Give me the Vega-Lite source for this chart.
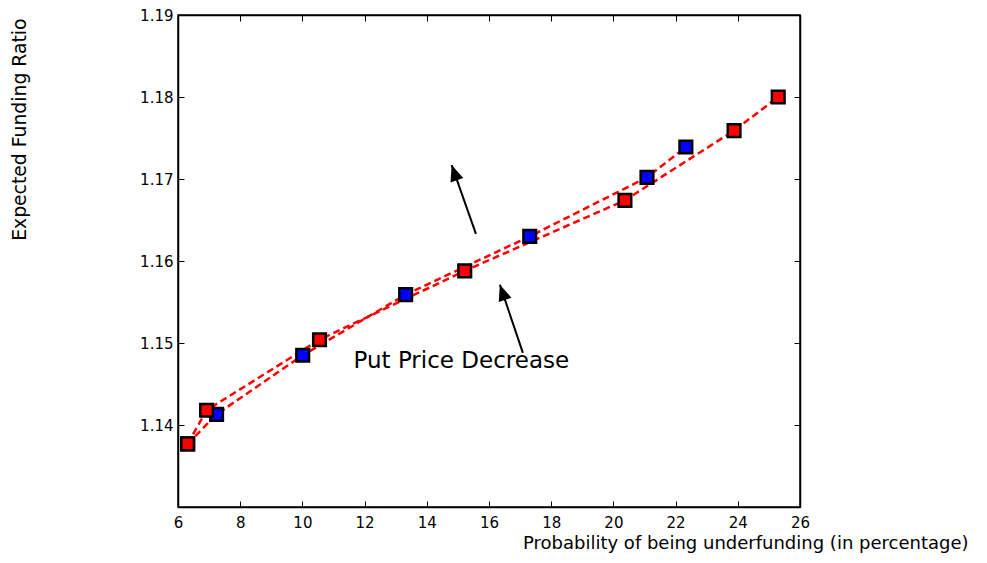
{
  "$schema": "https://vega.github.io/schema/vega-lite/v6.json",
  "autosize": {"type": "none"},
  "padding": {"left": 178, "top": 15, "right": 187, "bottom": 56},
  "width": 622,
  "height": 492,
  "background": "white",
  "config": {
    "view": {"stroke": "black", "strokeWidth": 1.5},
    "axis": {
      "grid": false,
      "domainColor": "black",
      "domainWidth": 1.5,
      "tickColor": "black",
      "tickWidth": 1,
      "tickSize": -6,
      "labelFont": "DejaVu Sans",
      "labelFontSize": 15,
      "labelColor": "black",
      "labelOverlap": false,
      "labelFlush": false,
      "titleFont": "DejaVu Sans",
      "titleFontSize": 18,
      "titleFontWeight": "normal",
      "titleColor": "black"
    }
  },
  "datasets": {
    "frontier": [
      {"series": "S2", "prob": 6.31, "ratio": 1.1377},
      {"series": "S2", "prob": 7.24, "ratio": 1.1413},
      {"series": "S2", "prob": 10.01, "ratio": 1.1485},
      {"series": "S2", "prob": 13.32, "ratio": 1.1559},
      {"series": "S2", "prob": 17.31, "ratio": 1.1630},
      {"series": "S2", "prob": 21.08, "ratio": 1.1702},
      {"series": "S2", "prob": 22.33, "ratio": 1.1739},
      {"series": "S1", "prob": 6.31, "ratio": 1.1377},
      {"series": "S1", "prob": 6.92, "ratio": 1.1418},
      {"series": "S1", "prob": 10.55, "ratio": 1.1504},
      {"series": "S1", "prob": 15.22, "ratio": 1.1588},
      {"series": "S1", "prob": 20.37, "ratio": 1.1674},
      {"series": "S1", "prob": 23.88, "ratio": 1.1759},
      {"series": "S1", "prob": 25.30, "ratio": 1.1800}
    ],
    "arrows": [
      {"fromProb": 15.58, "fromRatio": 1.1633, "toProb": 14.80, "toRatio": 1.1717},
      {"fromProb": 17.09, "fromRatio": 1.1488, "toProb": 16.35, "toRatio": 1.1571}
    ],
    "notes": [
      {"prob": 15.11, "ratio": 1.14695, "label": "Put Price Decrease"}
    ]
  },
  "resolve": {"axis": {"x": "independent", "y": "independent"}},
  "layer": [
    {
      "data": {"name": "frontier"},
      "mark": {"type": "line", "color": "#ff0000", "strokeWidth": 2.5, "strokeDash": [7, 4]},
      "encoding": {
        "x": {
          "field": "prob", "type": "quantitative",
          "scale": {"domain": [6, 26], "nice": false, "zero": false},
          "axis": {
            "orient": "bottom",
            "values": [6, 8, 10, 12, 14, 16, 18, 20, 22, 24, 26],
            "format": "d",
            "labelPadding": 14,
            "title": "Probability of being underfunding (in percentage)",
            "titleX": 790,
            "titleY": 41,
            "titleAlign": "right",
            "titleBaseline": "alphabetic"
          }
        },
        "y": {
          "field": "ratio", "type": "quantitative",
          "scale": {"domain": [1.13, 1.19], "nice": false, "zero": false},
          "axis": {
            "orient": "left",
            "values": [1.13, 1.14, 1.15, 1.16, 1.17, 1.18, 1.19],
            "labelExpr": "datum.value < 1.135 ? '' : format(datum.value, '.2f')",
            "labelPadding": 11,
            "title": "Expected Funding Ratio",
            "titleFontSize": 18.8,
            "titleAngle": -90,
            "titleX": -153,
            "titleY": 3,
            "titleAlign": "right",
            "titleBaseline": "alphabetic"
          }
        },
        "detail": {"field": "series"},
        "order": {"field": "prob"}
      }
    },
    {
      "data": {"name": "frontier"},
      "mark": {"type": "point", "shape": "square", "filled": true, "size": 160, "stroke": "black", "strokeWidth": 2.5, "opacity": 1},
      "encoding": {
        "x": {
          "field": "prob", "type": "quantitative",
          "axis": {"orient": "top", "values": [6, 8, 10, 12, 14, 16, 18, 20, 22, 24, 26], "labels": false, "title": null}
        },
        "y": {
          "field": "ratio", "type": "quantitative",
          "axis": {"orient": "right", "values": [1.13, 1.14, 1.15, 1.16, 1.17, 1.18, 1.19], "labels": false, "title": null}
        },
        "color": {
          "field": "series", "type": "nominal",
          "scale": {"domain": ["S1", "S2"], "range": ["#ff0000", "#0000ff"]},
          "legend": null
        }
      }
    },
    {
      "data": {"name": "arrows"},
      "mark": {"type": "rule", "color": "black", "strokeWidth": 2},
      "encoding": {
        "x": {"field": "fromProb", "type": "quantitative", "axis": null},
        "y": {"field": "fromRatio", "type": "quantitative", "axis": null},
        "x2": {"field": "toProb"},
        "y2": {"field": "toRatio"}
      }
    },
    {
      "data": {"name": "arrows"},
      "mark": {"type": "point", "shape": "M0,0L-0.42,1L0.42,1Z", "filled": true, "color": "black", "opacity": 1, "size": 1024, "angle": -19, "strokeWidth": 0},
      "encoding": {
        "x": {"field": "toProb", "type": "quantitative", "axis": null},
        "y": {"field": "toRatio", "type": "quantitative", "axis": null}
      }
    },
    {
      "data": {"name": "notes"},
      "mark": {"type": "text", "font": "DejaVu Sans", "fontSize": 23, "color": "black", "align": "center", "baseline": "alphabetic"},
      "encoding": {
        "x": {"field": "prob", "type": "quantitative", "axis": null},
        "y": {"field": "ratio", "type": "quantitative", "axis": null},
        "text": {"field": "label"}
      }
    }
  ]
}
